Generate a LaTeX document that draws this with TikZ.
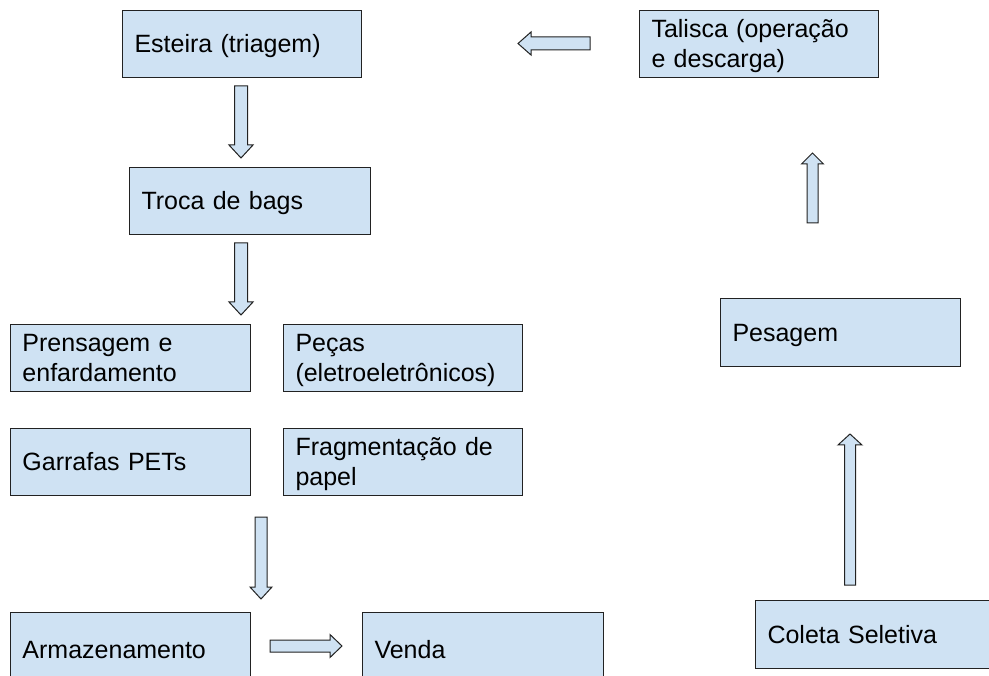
\documentclass[tikz,border=0pt]{standalone}
\usepackage{fontspec}
\setmainfont{Liberation Sans}
\definecolor{boxfill}{HTML}{CFE2F3}
\definecolor{boxline}{HTML}{222222}
\tikzset{
  box/.style={draw=boxline, fill=boxfill, line width=1pt, rectangle, anchor=north west,
    inner xsep=12pt, inner ysep=0pt, align=left,
    font=\fontsize{25}{30}\selectfont,
    execute at begin node={\rule{0pt}{24pt}},
    execute at end node={\rule[-6pt]{0pt}{0pt}}},
  barrow/.style={draw=boxline, fill=boxfill, line width=1pt, line join=miter}
}
\begin{document}
\begin{tikzpicture}[x=1pt,y=-1pt]
\useasboundingbox (0,0) rectangle (989,676);
\clip (0,0) rectangle (989,676);
\fill[white] (0,0) rectangle (989,676);
% boxes
\node[box, text width=215pt, minimum height=67pt] (est) at (122,10) {Esteira (triagem)};
\node[box, text width=215pt, minimum height=67pt] (tal) at (639,10) {Talisca (operação\\e descarga)};
\node[box, text width=217pt, minimum height=67pt] (tro) at (129,167) {Troca de bags};
\node[box, text width=216pt, minimum height=67pt] (pre) at (10,324) {Prensagem e\\enfardamento};
\node[box, text width=215pt, minimum height=67pt] (pec) at (283,324) {Peças\\(eletroeletrônicos)};
\node[box, text width=216pt, minimum height=67pt] (gar) at (10,428) {Garrafas PETs};
\node[box, text width=215pt, minimum height=67pt] (fra) at (283,428) {Fragmentação de\\papel};
\node[box, text width=216pt, minimum height=73pt] (arm) at (10,612) {Armazenamento};
\node[box, text width=217pt, minimum height=73pt] (ven) at (362,612) {Venda};
\node[box, text width=216pt, minimum height=68pt] (pes) at (720,298) {Pesagem};
\node[box, text width=216pt, minimum height=68pt] (col) at (755,600) {Coleta Seletiva};
% block arrows
% left arrow (Talisca -> Esteira)
\draw[barrow] (590,37) -- (531,37) -- (531,32) -- (518,43.5) -- (531,55) -- (531,50) -- (590,50) -- cycle;
% down arrow 1 (Esteira -> Troca)
\draw[barrow] (234.5,86) -- (247.5,86) -- (247.5,145) -- (253,145) -- (241,158) -- (229,145) -- (234.5,145) -- cycle;
% down arrow 2 (Troca -> Prensagem)
\draw[barrow] (234.5,243) -- (247.5,243) -- (247.5,302) -- (253,302) -- (241,315) -- (229,302) -- (234.5,302) -- cycle;
% down arrow 3 (Garrafas -> Armazenamento)
\draw[barrow] (255,517) -- (267,517) -- (267,587) -- (272,587) -- (261,599) -- (250,587) -- (255,587) -- cycle;
% right arrow (Armazenamento -> Venda)
\draw[barrow] (270,640) -- (330,640) -- (330,634.5) -- (342,646) -- (330,657.5) -- (330,652) -- (270,652) -- cycle;
% up arrow 1 (Pesagem -> Talisca)
\draw[barrow] (807,223) -- (818,223) -- (818,164) -- (823.5,164) -- (812.5,153) -- (801.5,164) -- (807,164) -- cycle;
% up arrow 2 (Coleta -> Pesagem)
\draw[barrow] (844.5,585) -- (855.5,585) -- (855.5,445) -- (862,445) -- (850,434) -- (838,445) -- (844.5,445) -- cycle;
\end{tikzpicture}
\end{document}
